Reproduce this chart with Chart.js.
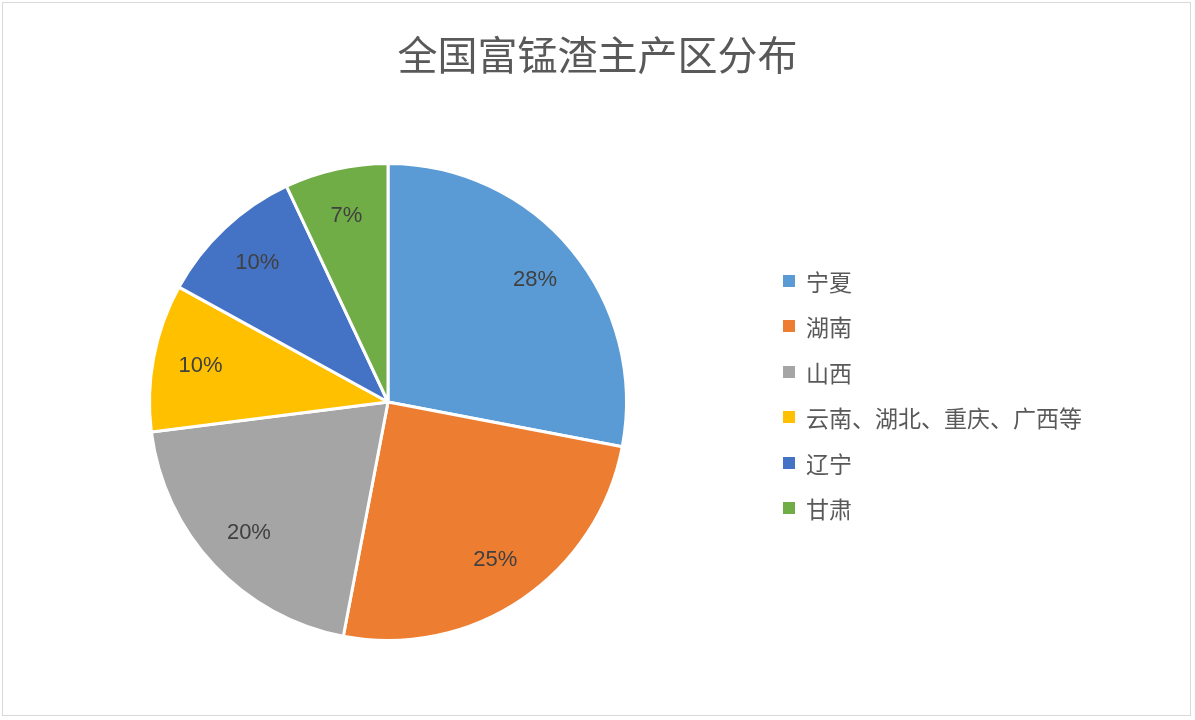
<!DOCTYPE html>
<html>
<head>
<meta charset="utf-8">
<script src="https://cdn.jsdelivr.net/npm/chart.js@4/dist/chart.umd.min.js"></script>
<style>
body{margin:0;background:#fff;font-family:"Noto Sans CJK SC",sans-serif;}
#wrap{position:relative;width:1195px;height:720px;}
#frame{position:absolute;left:2px;top:2px;width:1189px;height:714px;border:1px solid #d9d9d9;box-sizing:border-box;}
#title{position:absolute;left:0;width:1195px;top:24px;text-align:center;font-size:40px;color:#595959;}
#legend{position:absolute;left:783px;top:258px;font-size:23px;color:#595959;}
#legend div{height:45.5px;display:flex;align-items:center;}
#legend span{display:inline-block;width:12px;height:12px;margin-right:11px;}
canvas{position:absolute;left:0;top:0;}
</style>
</head>
<body>
<div id="wrap">
<canvas id="pie" width="1195" height="720"></canvas>
<div id="frame"></div>
<div id="title">全国富锰渣主产区分布</div>
<div id="legend"></div>
</div>
<script>
var categories = ["宁夏", "湖南", "山西", "云南、湖北、重庆、广西等", "辽宁", "甘肃"];
var shares = [28, 25, 20, 10, 10, 7];
var colors = ["#5B9BD5", "#ED7D31", "#A5A5A5", "#FFC000", "#4472C4", "#70AD47"];

var pctLabels = {
    id: 'pctLabels',
    afterDatasetsDraw: function(chart) {
        var ctx = chart.ctx
        chart.getDatasetMeta(0).data.forEach(function(arc, i) {
            var mid = (arc.startAngle + arc.endAngle) / 2
            var r = arc.outerRadius * 0.8
            ctx.save()
            ctx.fillStyle = '#404040'
            ctx.font = '22px "Liberation Sans", Arial, sans-serif'
            ctx.textAlign = 'center'
            ctx.textBaseline = 'middle'
            ctx.fillText(shares[i] + '%', arc.x + Math.cos(mid) * r, arc.y + Math.sin(mid) * r)
            ctx.restore()
        })
    }
}

new Chart(document.getElementById('pie'), {
    type: 'pie',
    data: {
        labels: categories,
        datasets: [{
            data: shares,
            backgroundColor: colors,
            borderColor: '#ffffff',
            borderWidth: 3
        }]
    },
    options: {
        responsive: false,
        animation: false,
        layout: { padding: { left: 148, right: 567, top: 162, bottom: 78 } },
        plugins: { legend: { display: false }, tooltip: { enabled: false } }
    },
    plugins: [pctLabels]
})

var lg = document.getElementById('legend')
categories.forEach(function(c, i) {
    lg.innerHTML += '<div><span style="background:' + colors[i] + '"></span>' + c + '</div>'
})
</script>
</body>
</html>
